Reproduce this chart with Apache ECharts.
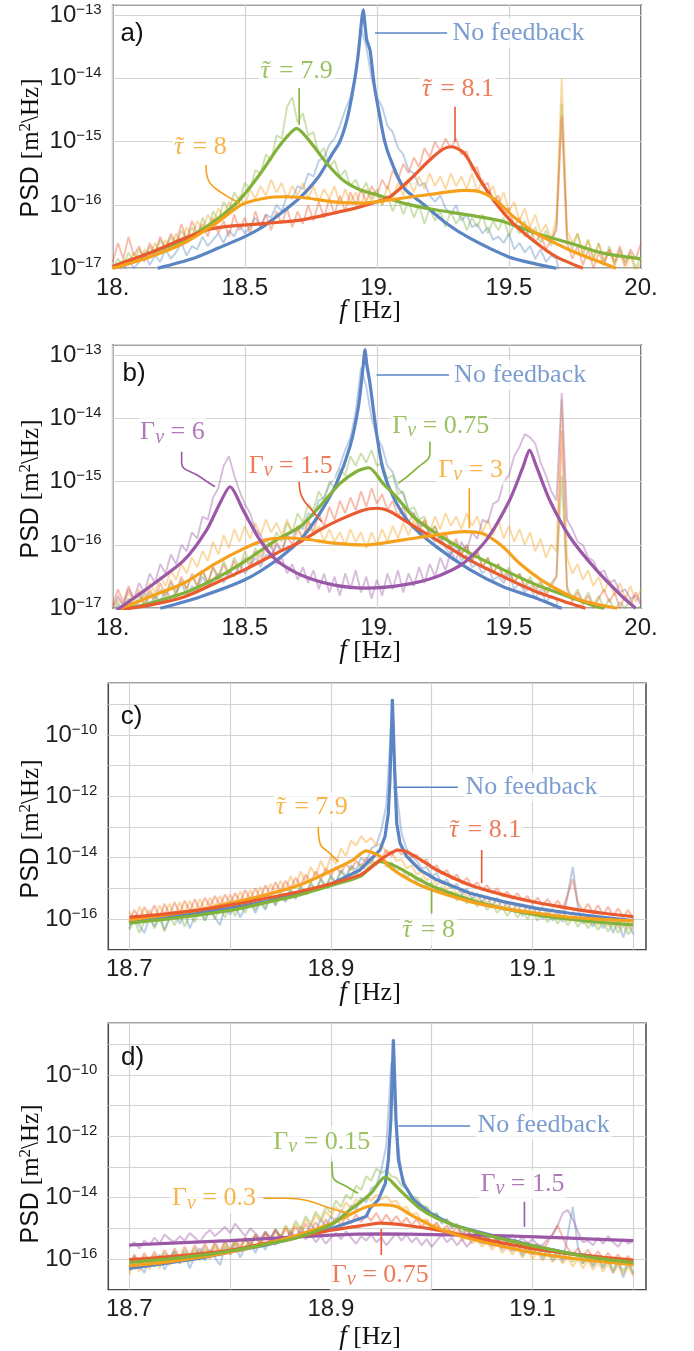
<!DOCTYPE html>
<html><head><meta charset="utf-8">
<script src="https://cdn.jsdelivr.net/npm/echarts@6/dist/echarts.min.js"></script>
<style>html,body{margin:0;padding:0;background:#fff}#c{width:694px;height:1351px}</style>
</head><body><div id="c"></div>
<script>
// ---------- DATA (values are log10 of PSD in m^2/Hz) ----------
// sampling positions of the measured (noisy) traces
const freqAB = Array.from({length:101}, (_, i) => Math.round((18 + 0.02 * i) * 1000) / 1000);
const freqCD = Array.from({length:101}, (_, i) => Math.round((18.7 + 0.005 * i) * 10000) / 10000);

// panel a) measured traces
const aNoiseBlue = [-17.1,-16.95,-17.05,-16.85,-17.0,-16.9,-16.75,-16.95,-16.8,-16.9,
 -16.7,-16.85,-16.75,-16.6,-16.8,-16.65,-16.7,-16.5,-16.65,-16.55,
 -16.45,-16.6,-16.4,-16.5,-16.3,-16.45,-16.35,-16.2,-16.35,-16.15,
 -16.2,-16.0,-16.1,-15.85,-15.9,-15.7,-15.75,-15.5,-15.55,-15.3,
 -15.25,-15.05,-14.95,-14.75,-14.5,-14.3,-13.9,-13.2,-13.5,-14.0,
 -14.3,-14.45,-14.75,-14.85,-15.1,-15.2,-15.45,-15.5,-15.7,-15.65,
 -15.85,-15.95,-15.85,-16.05,-16.15,-16.0,-16.25,-16.15,-16.35,-16.3,
 -16.45,-16.35,-16.55,-16.5,-16.6,-16.45,-16.7,-16.6,-16.75,-16.65,
 -16.85,-16.7,-16.9,-16.8,-16.85,-17.3,null,null,null,null,
 null,null,null,null,null,null,null,null,null,null,null];
const aNoiseGreen = [-17.0,-16.85,-16.95,-16.75,-16.9,-16.7,-16.85,-16.65,-16.8,-16.55,
 -16.7,-16.5,-16.65,-16.4,-16.55,-16.35,-16.5,-16.2,-16.4,-16.1,
 -16.25,-15.95,-16.1,-15.8,-15.95,-15.65,-15.75,-15.45,-15.5,-15.2,
 -15.3,-14.9,-14.95,-14.45,-14.3,-14.7,-14.55,-14.9,-14.85,-15.2,
 -15.1,-15.4,-15.3,-15.55,-15.45,-15.7,-15.6,-15.8,-15.65,-15.9,
 -15.75,-16.0,-15.85,-16.1,-15.9,-16.15,-15.95,-16.2,-16.0,-16.3,
 -16.05,-16.25,-16.1,-16.35,-16.1,-16.3,-16.15,-16.4,-16.2,-16.35,
 -16.15,-16.45,-16.25,-16.4,-16.2,-16.5,-16.3,-16.45,-16.25,-16.55,
 -16.35,-16.6,-16.4,-16.65,-16.3,-14.4,-16.5,-16.7,-16.45,-16.8,
 -16.55,-16.85,-16.6,-16.9,-16.65,-16.95,-16.7,-16.9,-16.75,-17.0,-16.8];
const aNoiseOrange = [-16.95,-17.05,-16.85,-16.95,-16.75,-16.9,-16.7,-16.8,-16.6,-16.75,
 -16.55,-16.7,-16.45,-16.6,-16.35,-16.5,-16.25,-16.4,-16.15,-16.3,
 -16.05,-16.2,-15.95,-16.1,-15.85,-16.0,-15.75,-15.9,-15.7,-15.85,
 -15.6,-15.8,-15.65,-15.9,-15.7,-15.85,-15.65,-15.9,-15.7,-15.95,
 -15.75,-15.9,-15.7,-16.0,-15.75,-15.95,-15.8,-16.0,-15.75,-15.95,
 -15.8,-16.0,-15.7,-15.9,-15.65,-15.85,-15.6,-15.8,-15.55,-15.75,
 -15.5,-15.7,-15.55,-15.75,-15.5,-15.7,-15.55,-15.75,-15.5,-15.8,
 -15.6,-15.85,-15.7,-16.0,-15.8,-16.1,-15.95,-16.25,-16.05,-16.35,
 -16.15,-16.45,-16.3,-16.55,-16.2,-14.0,-16.4,-16.6,-16.45,-16.75,
 -16.55,-16.85,-16.6,-16.9,-16.7,-16.95,-16.75,-17.0,-16.8,-17.05,-16.9];
const aNoiseRed = [-16.9,-16.6,-16.85,-16.5,-16.8,-16.65,-16.9,-16.6,-16.75,-16.5,
 -16.7,-16.45,-16.6,-16.3,-16.55,-16.25,-16.45,-16.3,-16.5,-16.2,
 -16.45,-16.25,-16.5,-16.15,-16.4,-16.2,-16.45,-16.1,-16.35,-16.15,
 -16.4,-16.1,-16.3,-16.05,-16.35,-16.1,-16.3,-16.0,-16.25,-15.95,
 -16.2,-15.9,-16.15,-15.85,-16.1,-15.8,-16.0,-15.75,-15.95,-15.7,
 -15.85,-15.6,-15.75,-15.45,-15.6,-15.35,-15.5,-15.25,-15.4,-15.1,
 -15.25,-15.0,-15.15,-14.95,-15.1,-14.95,-15.2,-15.15,-15.45,-15.4,
 -15.7,-15.65,-15.95,-15.85,-16.15,-16.05,-16.35,-16.2,-16.5,-16.35,
 -16.6,-16.45,-16.7,-16.55,-16.4,-14.6,-16.6,-16.85,-16.65,-16.95,
 -16.7,-17.0,-16.75,-16.95,-16.7,-16.9,-16.65,-16.95,-16.7,-16.85,-16.6];

// panel b) measured traces (No-feedback trace is the same measurement as in a)
const bNoiseGreen = [-17.1,-16.9,-17.05,-16.85,-17.0,-16.8,-16.95,-16.75,-16.9,-16.7,
 -16.85,-16.6,-16.8,-16.55,-16.7,-16.5,-16.65,-16.4,-16.6,-16.35,
 -16.5,-16.25,-16.45,-16.2,-16.35,-16.1,-16.3,-16.05,-16.2,-15.9,
 -16.05,-15.8,-15.95,-15.65,-15.8,-15.5,-15.65,-15.35,-15.45,-15.15,
 -15.3,-15.0,-15.1,-14.8,-14.9,-14.6,-14.75,-14.55,-14.7,-14.5,
 -14.75,-14.7,-14.95,-14.9,-15.2,-15.15,-15.45,-15.4,-15.6,-15.55,
 -15.8,-15.7,-15.9,-15.85,-16.05,-15.95,-16.15,-16.0,-16.25,-16.1,
 -16.35,-16.2,-16.45,-16.3,-16.5,-16.35,-16.6,-16.45,-16.65,-16.5,
 -16.7,-16.55,-16.75,-16.6,-16.5,-14.9,-16.65,-16.85,-16.7,-16.9,
 -16.75,-16.95,-16.8,-17.0,-16.85,-17.05,-16.9,-17.0,-16.85,-17.05,-16.95];
const bNoiseRed = [-16.95,-16.7,-16.9,-16.65,-16.85,-16.75,-16.95,-16.7,-16.85,-16.6,
 -16.8,-16.55,-16.75,-16.5,-16.7,-16.45,-16.65,-16.4,-16.6,-16.35,
 -16.55,-16.3,-16.5,-16.25,-16.45,-16.2,-16.35,-16.1,-16.3,-16.0,
 -16.2,-15.95,-16.1,-15.85,-16.0,-15.75,-15.9,-15.6,-15.8,-15.5,
 -15.7,-15.4,-15.6,-15.3,-15.5,-15.25,-15.45,-15.15,-15.4,-15.1,
 -15.35,-15.2,-15.45,-15.3,-15.55,-15.4,-15.65,-15.5,-15.75,-15.6,
 -15.85,-15.7,-15.95,-15.8,-16.05,-15.9,-16.15,-16.0,-16.25,-16.1,
 -16.35,-16.2,-16.45,-16.3,-16.55,-16.4,-16.6,-16.45,-16.7,-16.55,
 -16.75,-16.6,-16.8,-16.65,-16.5,-14.2,-16.7,-16.9,-16.75,-16.95,
 -16.8,-17.0,-16.85,-16.7,-16.9,-16.75,-17.0,-16.8,-16.95,-16.75,-16.9];
const bNoiseOrange = [-17.0,-16.85,-16.95,-16.75,-16.9,-16.7,-16.85,-16.6,-16.75,-16.5,
 -16.65,-16.4,-16.55,-16.3,-16.45,-16.2,-16.35,-16.1,-16.25,-15.95,
 -16.15,-15.85,-16.05,-15.75,-15.95,-15.7,-15.9,-15.65,-15.85,-15.6,
 -15.8,-15.65,-15.85,-15.6,-15.8,-15.7,-15.9,-15.65,-15.85,-15.7,
 -15.95,-15.75,-15.95,-15.8,-16.0,-15.75,-15.95,-15.8,-16.05,-15.8,
 -16.0,-15.75,-15.95,-15.7,-15.9,-15.65,-15.85,-15.6,-15.85,-15.6,
 -15.8,-15.55,-15.75,-15.5,-15.7,-15.55,-15.75,-15.5,-15.7,-15.55,
 -15.8,-15.6,-15.85,-15.6,-15.9,-15.7,-15.95,-15.75,-16.0,-15.8,
 -16.1,-15.9,-16.2,-16.0,-16.1,-13.7,-16.2,-16.45,-16.3,-16.55,
 -16.4,-16.65,-16.5,-16.75,-16.55,-16.8,-16.6,-16.85,-16.65,-16.9,-16.7];
const bNoisePurple = [-17.0,-16.8,-16.95,-16.7,-16.85,-16.6,-16.75,-16.45,-16.6,-16.3,
 -16.45,-16.15,-16.3,-16.0,-16.1,-15.8,-15.9,-15.55,-15.6,-15.25,
 -15.1,-14.75,-14.6,-14.9,-15.15,-15.35,-15.5,-15.75,-15.85,-16.05,
 -16.0,-16.3,-16.2,-16.45,-16.3,-16.55,-16.35,-16.6,-16.4,-16.7,
 -16.45,-16.75,-16.5,-16.8,-16.45,-16.7,-16.4,-16.75,-16.5,-16.85,
 -16.55,-16.8,-16.45,-16.7,-16.4,-16.75,-16.45,-16.65,-16.35,-16.6,
 -16.3,-16.5,-16.2,-16.4,-16.1,-16.25,-15.95,-16.1,-15.8,-15.9,
 -15.6,-15.65,-15.35,-15.3,-15.0,-14.9,-14.6,-14.45,-14.25,-14.3,
 -14.4,-14.7,-14.9,-15.15,-15.3,-13.6,-15.6,-15.75,-15.95,-16.0,
 -16.2,-16.25,-16.45,-16.4,-16.6,-16.55,-16.75,-16.7,-16.85,-16.8,-16.95];

// panel c) measured traces
const cNoiseBlue = [-16.3,-15.9,-16.2,-16.45,-15.95,-16.25,-15.85,-16.35,-16.0,-15.75,
 -16.15,-15.8,-16.3,-15.9,-15.65,-16.05,-15.7,-15.95,-16.2,-15.6,
 -15.85,-15.5,-15.95,-15.6,-15.4,-15.8,-15.45,-15.7,-15.25,-15.55,
 -15.2,-15.45,-15.05,-15.35,-14.95,-15.2,-14.85,-15.1,-14.7,-14.95,
 -14.6,-14.8,-14.4,-14.6,-14.25,-14.4,-14.0,-14.15,-13.7,-13.6,
 -13.1,-12.3,-9.6,-11.8,-13.2,-13.7,-13.95,-14.1,-14.35,-14.3,
 -14.6,-14.5,-14.85,-14.7,-15.0,-14.85,-15.2,-15.0,-15.35,-15.15,
 -15.45,-15.25,-15.6,-15.3,-15.7,-15.45,-15.75,-15.5,-15.9,-15.55,
 -15.85,-15.6,-16.0,-15.7,-16.05,-15.75,-16.1,-15.2,-14.3,-15.6,
 -16.15,-15.85,-16.25,-15.9,-16.3,-16.0,-16.45,-16.05,-16.6,-16.1,-16.5];
const cNoiseOrange = [-15.75,-16.1,-15.6,-15.95,-15.7,-16.05,-15.55,-15.85,-15.5,-15.9,
 -15.45,-15.8,-15.4,-15.75,-15.35,-15.7,-15.3,-15.6,-15.25,-15.55,
 -15.2,-15.5,-15.1,-15.45,-15.05,-15.35,-14.95,-15.3,-14.85,-15.15,
 -14.75,-15.05,-14.6,-14.95,-14.45,-14.8,-14.3,-14.6,-14.1,-14.45,
 -13.95,-14.2,-13.7,-13.95,-13.45,-13.6,-13.3,-13.5,-13.35,-13.6,
 -13.55,-13.85,-13.8,-14.1,-14.05,-14.35,-14.25,-14.55,-14.45,-14.75,
 -14.6,-14.9,-14.75,-15.05,-14.9,-15.2,-15.0,-15.3,-15.1,-15.4,
 -15.2,-15.5,-15.3,-15.6,-15.4,-15.65,-15.45,-15.75,-15.5,-15.8,
 -15.55,-15.9,-15.6,-15.95,-15.65,-16.0,-15.7,-16.05,-15.75,-16.1,
 -15.8,-16.15,-15.85,-16.2,-15.9,-16.25,-15.95,-16.3,-16.0,-16.35,-16.05];
const cNoiseRed = [-16.1,-15.7,-16.0,-15.6,-15.9,-15.55,-15.95,-15.5,-15.85,-15.45,
 -15.8,-15.4,-15.75,-15.35,-15.7,-15.3,-15.6,-15.25,-15.55,-15.2,
 -15.5,-15.15,-15.45,-15.05,-15.35,-15.0,-15.3,-14.9,-15.2,-14.8,
 -15.1,-14.75,-15.0,-14.65,-14.9,-14.55,-14.8,-14.45,-14.7,-14.35,
 -14.6,-14.3,-14.5,-14.2,-14.4,-14.1,-14.3,-14.0,-14.2,-13.85,
 -14.05,-13.75,-13.95,-13.7,-13.9,-13.75,-14.0,-13.9,-14.15,-14.05,
 -14.35,-14.25,-14.55,-14.4,-14.7,-14.55,-14.85,-14.65,-14.95,-14.8,
 -15.05,-14.9,-15.15,-15.0,-15.25,-15.1,-15.35,-15.15,-15.4,-15.25,
 -15.5,-15.3,-15.55,-15.35,-15.6,-15.4,-15.65,-15.2,-14.7,-15.45,
 -15.75,-15.5,-15.8,-15.55,-15.85,-15.6,-15.9,-15.65,-15.95,-15.7,-16.0];
const cNoiseGreen = [-16.35,-16.0,-16.45,-16.1,-15.85,-16.3,-15.95,-16.4,-15.9,-16.2,
 -15.8,-16.25,-15.85,-16.1,-15.7,-16.05,-15.65,-16.0,-15.6,-15.95,
 -15.55,-15.9,-15.45,-15.8,-15.4,-15.7,-15.3,-15.65,-15.2,-15.55,
 -15.1,-15.4,-15.0,-15.3,-14.9,-15.2,-14.8,-15.05,-14.7,-14.95,
 -14.6,-14.85,-14.45,-14.7,-14.3,-14.55,-14.2,-14.4,-14.05,-14.25,
 -14.0,-14.3,-14.15,-14.45,-14.35,-14.65,-14.5,-14.8,-14.65,-14.95,
 -14.8,-15.1,-14.95,-15.25,-15.1,-15.4,-15.2,-15.5,-15.3,-15.6,
 -15.4,-15.7,-15.5,-15.8,-15.6,-15.9,-15.65,-15.95,-15.7,-16.0,
 -15.75,-16.05,-15.8,-16.1,-15.85,-16.15,-15.9,-16.2,-15.95,-16.25,
 -16.0,-16.3,-16.05,-16.35,-16.1,-16.4,-16.15,-16.45,-16.2,-16.5,-16.25];

// panel d) measured traces (No-feedback trace is the same measurement as in c)
const dNoiseGreen = [-16.4,-16.0,-16.3,-15.9,-16.25,-15.85,-16.2,-15.8,-16.1,-15.75,
 -16.05,-15.7,-16.0,-15.65,-15.95,-15.6,-15.9,-15.5,-15.85,-15.45,
 -15.75,-15.4,-15.7,-15.3,-15.6,-15.2,-15.5,-15.1,-15.4,-15.0,
 -15.3,-14.9,-15.15,-14.75,-15.0,-14.6,-14.85,-14.45,-14.7,-14.3,
 -14.5,-14.1,-14.3,-13.9,-14.05,-13.6,-13.75,-13.3,-13.45,-13.05,
 -13.2,-13.1,-13.3,-13.35,-13.6,-13.7,-13.95,-14.0,-14.25,-14.3,
 -14.5,-14.55,-14.75,-14.7,-14.95,-14.9,-15.1,-15.0,-15.25,-15.15,
 -15.35,-15.25,-15.5,-15.35,-15.6,-15.45,-15.7,-15.5,-15.8,-15.6,
 -15.85,-15.65,-15.9,-15.7,-15.95,-15.75,-16.0,-15.8,-16.1,-15.85,
 -16.15,-15.9,-16.2,-15.95,-16.25,-16.0,-16.35,-16.05,-16.4,-16.1,-16.45];
const dNoiseOrange = [-16.5,-16.1,-16.4,-16.0,-16.35,-15.95,-16.3,-15.9,-16.2,-15.85,
 -16.15,-15.8,-16.1,-15.75,-16.05,-15.7,-16.0,-15.6,-15.9,-15.55,
 -15.85,-15.45,-15.75,-15.35,-15.65,-15.25,-15.55,-15.15,-15.45,-15.05,
 -15.35,-14.95,-15.2,-14.85,-15.1,-14.7,-14.95,-14.55,-14.8,-14.45,
 -14.65,-14.3,-14.5,-14.15,-14.35,-14.05,-14.2,-13.95,-14.1,-13.9,
 -14.05,-13.95,-14.15,-14.1,-14.35,-14.3,-14.55,-14.5,-14.75,-14.7,
 -14.95,-14.85,-15.1,-15.0,-15.25,-15.1,-15.4,-15.25,-15.5,-15.35,
 -15.6,-15.45,-15.7,-15.5,-15.8,-15.6,-15.85,-15.65,-15.95,-15.7,
 -16.0,-15.8,-16.05,-15.85,-16.1,-15.9,-16.15,-15.95,-16.25,-16.0,
 -16.3,-16.05,-16.35,-16.1,-16.4,-16.15,-16.45,-16.2,-16.5,-16.25,-16.55];
const dNoiseRed = [-16.25,-15.85,-16.15,-15.8,-16.1,-15.75,-16.05,-15.7,-16.0,-15.65,
 -15.95,-15.6,-15.9,-15.55,-15.85,-15.5,-15.8,-15.45,-15.75,-15.4,
 -15.7,-15.35,-15.6,-15.3,-15.55,-15.2,-15.5,-15.15,-15.4,-15.05,
 -15.35,-15.0,-15.25,-14.95,-15.2,-14.85,-15.1,-14.8,-15.05,-14.7,
 -14.95,-14.65,-14.9,-14.6,-14.85,-14.55,-14.8,-14.55,-14.75,-14.5,
 -14.8,-14.55,-14.8,-14.6,-14.85,-14.65,-14.9,-14.7,-14.95,-14.75,
 -15.0,-14.8,-15.1,-14.9,-15.15,-14.95,-15.25,-15.05,-15.3,-15.1,
 -15.4,-15.2,-15.45,-15.25,-15.55,-15.3,-15.6,-15.4,-15.65,-15.45,
 -15.7,-15.5,-15.75,-15.45,-15.2,-14.9,-15.3,-15.65,-15.85,-15.65,
 -15.9,-15.7,-15.95,-15.75,-16.0,-15.8,-16.05,-15.85,-16.1,-15.9,-16.2];
const dNoisePurple = [-15.6,-15.45,-15.65,-15.4,-15.55,-15.3,-15.5,-15.2,-15.35,-15.45,
 -15.25,-15.4,-15.15,-15.3,-15.45,-15.2,-15.05,-15.25,-15.1,-14.95,
 -15.15,-14.85,-15.05,-15.25,-15.0,-15.15,-15.35,-15.1,-15.3,-15.05,
 -15.25,-15.4,-15.15,-15.3,-15.1,-15.35,-15.2,-15.45,-15.25,-15.5,
 -15.3,-15.15,-15.35,-15.1,-15.3,-15.5,-15.25,-15.4,-15.2,-15.45,
 -15.3,-15.55,-15.35,-15.15,-15.4,-15.2,-15.45,-15.3,-15.55,-15.35,
 -15.6,-15.4,-15.2,-15.45,-15.3,-15.55,-15.35,-15.6,-15.4,-15.25,
 -15.5,-15.3,-15.55,-15.35,-15.6,-15.4,-15.2,-15.45,-15.3,-15.5,
 -15.35,-15.55,-15.55,-15.35,-15.2,-14.9,-14.5,-14.4,-14.7,-15.1,
 -15.45,-15.4,-15.55,-15.3,-15.5,-15.25,-15.45,-15.6,-15.35,-15.5,-15.4];

// model curves [f (Hz), log10 PSD]
const aCurveBlue = [[18.17,-17.0],[18.3,-16.85],[18.4,-16.68],[18.5,-16.5],[18.57,-16.34],[18.64,-16.12],[18.71,-15.88],[18.78,-15.55],[18.83,-15.2],[18.86,-15.0],[18.89,-14.6],[18.917,-14.0],[18.93,-13.6],[18.942,-13.1],[18.948,-12.92],[18.955,-13.15],[18.962,-13.4],[18.974,-13.55],[18.99,-14.1],[19.011,-14.6],[19.03,-15.0],[19.049,-15.25],[19.1,-15.72],[19.18,-16.0],[19.26,-16.28],[19.35,-16.52],[19.5,-16.82],[19.6,-16.93],[19.68,-17.0]];
const aCurveGreen = [[18.0,-16.97],[18.14,-16.76],[18.27,-16.55],[18.39,-16.24],[18.48,-15.92],[18.56,-15.5],[18.62,-15.13],[18.66,-14.92],[18.696,-14.79],[18.747,-15.0],[18.81,-15.34],[18.87,-15.6],[18.936,-15.76],[19.0,-15.84],[19.1,-15.97],[19.226,-16.08],[19.352,-16.16],[19.478,-16.26],[19.604,-16.45],[19.73,-16.6],[19.856,-16.76],[20.0,-16.85]];
const aCurveOrange = [[18.0,-17.0],[18.14,-16.82],[18.27,-16.6],[18.39,-16.29],[18.49,-15.99],[18.58,-15.89],[18.646,-15.87],[18.734,-15.89],[18.835,-15.95],[18.936,-15.97],[19.0,-15.95],[19.1,-15.89],[19.226,-15.82],[19.33,-15.77],[19.39,-15.79],[19.45,-15.92],[19.516,-16.18],[19.604,-16.45],[19.73,-16.71],[19.856,-16.92],[19.906,-17.0]];
const aCurveRed = [[18.0,-16.97],[18.14,-16.76],[18.27,-16.53],[18.37,-16.38],[18.456,-16.33],[18.58,-16.29],[18.71,-16.24],[18.835,-16.13],[18.936,-16.03],[19.0,-15.95],[19.05,-15.87],[19.125,-15.6],[19.2,-15.29],[19.25,-15.12],[19.282,-15.08],[19.33,-15.18],[19.39,-15.6],[19.45,-15.97],[19.516,-16.29],[19.604,-16.6],[19.68,-16.82],[19.78,-17.0]];

const bCurveBlue = [[18.18,-17.0],[18.33,-16.82],[18.5,-16.55],[18.62,-16.24],[18.71,-15.92],[18.784,-15.5],[18.847,-15.03],[18.898,-14.45],[18.93,-13.82],[18.948,-13.18],[18.955,-12.92],[18.962,-13.15],[18.974,-13.45],[18.999,-14.24],[19.024,-14.82],[19.062,-15.24],[19.125,-15.66],[19.226,-16.03],[19.352,-16.39],[19.478,-16.66],[19.604,-16.84],[19.68,-16.97],[19.7,-17.0]];
const bCurveGreen = [[18.03,-17.03],[18.14,-16.92],[18.27,-16.76],[18.39,-16.53],[18.5,-16.26],[18.62,-15.92],[18.71,-15.71],[18.784,-15.39],[18.86,-15.03],[18.923,-14.84],[18.97,-14.78],[19.024,-15.03],[19.074,-15.24],[19.137,-15.55],[19.226,-15.82],[19.352,-16.13],[19.478,-16.39],[19.604,-16.63],[19.73,-16.82],[19.83,-16.97],[19.86,-17.0]];
const bCurveRed = [[18.03,-17.02],[18.14,-16.95],[18.27,-16.82],[18.39,-16.6],[18.5,-16.39],[18.62,-16.13],[18.71,-15.95],[18.784,-15.76],[18.86,-15.6],[18.948,-15.45],[19.0,-15.42],[19.05,-15.47],[19.1,-15.6],[19.226,-15.92],[19.352,-16.24],[19.478,-16.5],[19.604,-16.74],[19.73,-16.92],[19.79,-17.0]];
const bCurveOrange = [[18.03,-17.0],[18.14,-16.82],[18.27,-16.6],[18.39,-16.29],[18.5,-16.05],[18.58,-15.92],[18.66,-15.89],[18.734,-15.91],[18.835,-15.97],[18.96,-16.0],[19.1,-15.92],[19.226,-15.84],[19.33,-15.79],[19.4,-15.82],[19.478,-16.03],[19.54,-16.29],[19.64,-16.6],[19.77,-16.87],[19.91,-17.0]];
const bCurvePurple = [[18.015,-17.03],[18.14,-16.66],[18.27,-16.24],[18.356,-15.76],[18.406,-15.34],[18.444,-15.08],[18.494,-15.45],[18.557,-15.92],[18.62,-16.24],[18.71,-16.47],[18.835,-16.63],[18.96,-16.68],[19.1,-16.63],[19.226,-16.5],[19.327,-16.29],[19.415,-15.92],[19.503,-15.29],[19.554,-14.76],[19.578,-14.5],[19.604,-14.76],[19.654,-15.29],[19.73,-15.87],[19.83,-16.39],[19.93,-16.82],[19.98,-17.0]];

const cCurveBlue = [[18.7,-16.08],[18.754,-15.86],[18.8,-15.65],[18.836,-15.43],[18.869,-15.16],[18.902,-14.83],[18.929,-14.4],[18.9388,-14.07],[18.9487,-13.75],[18.9537,-13.31],[18.957,-12.55],[18.9586,-11.47],[18.961,-8.83],[18.9636,-11.47],[18.9653,-12.88],[18.9686,-13.53],[18.9752,-13.96],[18.9884,-14.4],[19.005,-14.72],[19.038,-15.16],[19.071,-15.43],[19.104,-15.65],[19.137,-15.81],[19.17,-15.94],[19.2,-16.05]];
const cCurveOrange = [[18.7,-16.03],[18.737,-15.86],[18.77,-15.7],[18.803,-15.46],[18.836,-15.21],[18.869,-14.89],[18.902,-14.4],[18.922,-14.07],[18.935,-13.78],[18.949,-13.96],[18.958,-14.29],[18.972,-14.61],[18.988,-14.89],[19.005,-15.1],[19.038,-15.43],[19.071,-15.65],[19.104,-15.81],[19.137,-15.94],[19.17,-16.01],[19.2,-16.06]];
const cCurveRed = [[18.7,-15.94],[18.737,-15.83],[18.77,-15.7],[18.803,-15.53],[18.836,-15.32],[18.869,-15.1],[18.902,-14.83],[18.929,-14.56],[18.939,-14.34],[18.949,-14.07],[18.967,-13.75],[18.978,-13.85],[18.992,-14.13],[19.005,-14.4],[19.038,-14.89],[19.071,-15.21],[19.104,-15.46],[19.137,-15.65],[19.17,-15.81],[19.2,-15.92]];
const cCurveGreen = [[18.7,-16.13],[18.737,-16.0],[18.77,-15.86],[18.803,-15.7],[18.836,-15.46],[18.869,-15.21],[18.902,-14.89],[18.929,-14.61],[18.948,-14.13],[18.965,-14.29],[18.988,-14.72],[19.005,-14.99],[19.038,-15.37],[19.071,-15.65],[19.104,-15.86],[19.137,-16.0],[19.17,-16.11],[19.2,-16.19]];

const dCurveBlue = [[18.7,-16.3],[18.737,-16.13],[18.77,-15.97],[18.803,-15.75],[18.836,-15.54],[18.869,-15.27],[18.902,-14.99],[18.935,-14.61],[18.939,-14.34],[18.947,-14.07],[18.954,-13.53],[18.957,-12.77],[18.9595,-11.47],[18.962,-8.84],[18.9646,-11.47],[18.967,-12.77],[18.972,-13.53],[18.982,-14.07],[18.998,-14.5],[19.021,-14.89],[19.045,-15.1],[19.071,-15.32],[19.104,-15.59],[19.137,-15.81],[19.17,-15.97],[19.2,-16.08]];
const dCurveGreen = [[18.7,-16.11],[18.737,-16.0],[18.77,-15.88],[18.803,-15.72],[18.836,-15.52],[18.869,-15.28],[18.902,-14.85],[18.917,-14.45],[18.929,-14.15],[18.94,-13.85],[18.9537,-13.33],[18.9586,-13.42],[18.965,-13.64],[18.975,-13.96],[18.988,-14.34],[19.005,-14.67],[19.031,-14.99],[19.054,-15.21],[19.088,-15.48],[19.12,-15.7],[19.153,-15.92],[19.2,-16.11]];
const dCurveOrange = [[18.7,-16.22],[18.737,-16.1],[18.77,-15.94],[18.803,-15.75],[18.836,-15.5],[18.869,-15.2],[18.902,-14.82],[18.917,-14.58],[18.935,-14.3],[18.9504,-14.23],[18.965,-14.29],[18.982,-14.61],[19.005,-14.99],[19.031,-15.27],[19.064,-15.54],[19.104,-15.81],[19.153,-16.03],[19.2,-16.19]];
const dCurveRed = [[18.7,-16.02],[18.737,-15.93],[18.77,-15.83],[18.803,-15.7],[18.836,-15.48],[18.869,-15.27],[18.902,-15.05],[18.935,-14.89],[18.949,-14.83],[18.972,-14.89],[19.005,-15.05],[19.038,-15.27],[19.071,-15.48],[19.104,-15.68],[19.137,-15.83],[19.17,-15.94],[19.2,-16.03]];
const dCurvePurple = [[18.7,-15.54],[18.8,-15.4],[18.9,-15.22],[18.95,-15.18],[19.0,-15.2],[19.071,-15.24],[19.137,-15.32],[19.2,-15.4]];

// axis ranges and ticks
const xRangeAB = [18, 20], xRangeCD = [18.6792, 19.2126];
const yRangeAB = [-17, -12.837], yRangeCD = [-17, -8.32];
const xGridCD = [18.7, 18.8, 18.9, 19.0, 19.1, 19.2], xLabelsCD = [18.7, 18.9, 19.1];
const yLabelsAB = [-17, -16, -15, -14, -13], yLabelsCD = [-16, -14, -12, -10];

// callout texts and their anchors [f, log10 PSD]
const TAU = '{tau|τ}{tl|˜}';
const GAM = '{s|Γ}{v|v}';
const aNotes = [
  {text:'{s|No feedback}', c:'blue', at:[19.277,-13.284], left:true},
  {text:TAU+'{s| = 7.9}', c:'green', at:[18.696,-13.884]},
  {text:TAU+'{s| = 8}', c:'orange', at:[18.332,-15.083]},
  {text:TAU+'{s| = 8.1}', c:'red', at:[19.307,-14.168]}];
const aLeaders = [
  {c:'blue', pts:[[18.993,-13.284],[19.266,-13.284]]},
  {c:'green', pts:[[18.706,-14.152],[18.706,-14.737]]},
  {c:'orange', pts:[[18.353,-15.368],[18.362,-15.605],[18.406,-15.79],[18.482,-15.973]]},
  {c:'red', pts:[[19.296,-14.448],[19.296,-15.0]]}];
const bNotes = [
  {text:'{s|No feedback}', c:'blue', at:[19.283,-13.316], left:true},
  {text:GAM+'{s| = 6}', c:'purple', at:[18.226,-14.224]},
  {text:GAM+'{s| = 1.5}', c:'red', at:[18.674,-14.749]},
  {text:GAM+'{s| = 0.75}', c:'green', at:[19.242,-14.118]},
  {text:GAM+'{s| = 3}', c:'orange', at:[19.355,-14.818]}];
const bLeaders = [
  {c:'blue', pts:[[18.999,-13.316],[19.273,-13.316]]},
  {c:'purple', pts:[[18.261,-14.527],[18.261,-14.71],[18.33,-14.922],[18.387,-15.08]]},
  {c:'red', pts:[[18.706,-15.0],[18.716,-15.237],[18.759,-15.474],[18.791,-15.632]]},
  {c:'green', pts:[[19.201,-14.369],[19.201,-14.552],[19.151,-14.789],[19.081,-15.026]]},
  {c:'orange', pts:[[19.35,-15.105],[19.35,-15.737]]}];
const cNotes = [
  {text:'{s|No feedback}', c:'blue', at:[19.031,-11.688], left:true},
  {text:TAU+'{s| = 8.1}', c:'red', at:[19.053,-13.099]},
  {text:TAU+'{s| = 7.9}', c:'orange', at:[18.881,-12.366]},
  {text:TAU+'{s| = 8}', c:'green', at:[18.997,-16.356]}];
const cLeaders = [
  {c:'blue', pts:[[18.962,-11.708],[19.026,-11.708]]},
  {c:'red', pts:[[19.0496,-13.75],[19.0496,-14.835]]},
  {c:'orange', pts:[[18.8875,-12.991],[18.8892,-13.532],[18.899,-13.858],[18.9075,-14.131]]},
  {c:'green', pts:[[18.9999,-15.053],[18.9999,-15.812]]}];
const dNotes = [
  {text:'{s|No feedback}', c:'blue', at:[19.043,-11.633], left:true},
  {text:GAM+'{s| = 0.15}', c:'green', at:[18.891,-12.177]},
  {text:GAM+'{s| = 0.3}', c:'orange', at:[18.784,-14.02]},
  {text:GAM+'{s| = 0.75}', c:'red', at:[18.949,-16.519]},
  {text:GAM+'{s| = 1.5}', c:'purple', at:[19.09,-13.555]}];
const dLeaders = [
  {c:'blue', pts:[[18.967,-11.665],[19.038,-11.665]]},
  {c:'green', pts:[[18.901,-12.828],[18.902,-13.317],[18.916,-13.643],[18.927,-13.857]]},
  {c:'orange', pts:[[18.833,-14.02],[18.856,-14.02],[18.912,-14.457],[18.917,-14.489]]},
  {c:'red', pts:[[18.95,-15.02],[18.95,-15.867]]},
  {c:'purple', pts:[[19.092,-14.131],[19.092,-14.945]]}];

// ---------- STYLE / LAYOUT ----------
const COL = {blue:'#5a84c3', green:'#82b23a', orange:'#f5a11c', red:'#ea5a2f', purple:'#9b58a7'};
const layout = [
  {left:112.7, right:53, top:4.7, height:263.6},
  {left:112.7, right:53, top:344.7, height:263.6},
  {left:108.3, right:48, top:683.3, height:266.5},
  {left:108.3, right:48, top:1023.3, height:266.5}];
const letterPos = [[132,34],[134,373.5],[131.5,717],[132.5,1058]];
const yTitlePos = [[31,148],[31,489],[31,829],[31,1174]];
const xTitlePos = [[370,311],[370,651],[370,993],[370,1337]];

const panels = [
  {noiseX:freqAB, noise:[[aNoiseBlue,'blue'],[aNoiseGreen,'green'],[aNoiseOrange,'orange'],[aNoiseRed,'red']],
   curves:[[aCurveBlue,'blue'],[aCurveGreen,'green'],[aCurveRed,'red'],[aCurveOrange,'orange']], notes:aNotes, leaders:aLeaders, letter:'a)'},
  {noiseX:freqAB, noise:[[aNoiseBlue,'blue'],[bNoiseGreen,'green'],[bNoiseRed,'red'],[bNoiseOrange,'orange'],[bNoisePurple,'purple']],
   curves:[[bCurveBlue,'blue'],[bCurveGreen,'green'],[bCurveRed,'red'],[bCurveOrange,'orange'],[bCurvePurple,'purple']], notes:bNotes, leaders:bLeaders, letter:'b)'},
  {noiseX:freqCD, noise:[[cNoiseBlue,'blue'],[cNoiseOrange,'orange'],[cNoiseRed,'red'],[cNoiseGreen,'green']],
   curves:[[cCurveBlue,'blue'],[cCurveGreen,'green'],[cCurveOrange,'orange'],[cCurveRed,'red']], notes:cNotes, leaders:cLeaders, letter:'c)'},
  {noiseX:freqCD, noise:[[cNoiseBlue,'blue'],[dNoiseGreen,'green'],[dNoiseOrange,'orange'],[dNoiseRed,'red'],[dNoisePurple,'purple']],
   curves:[[dCurveBlue,'blue'],[dCurvePurple,'purple'],[dCurveRed,'red'],[dCurveOrange,'orange'],[dCurveGreen,'green']], notes:dNotes, leaders:dLeaders, letter:'d)'}];

function pairs(xs, ys) {
  const out = [];
  for (let i = 0; i < Math.min(xs.length, ys.length); i++) if (ys[i] != null) out.push([xs[i], ys[i]]);
  return out;
}
const TICK_FONT = 'Liberation Sans';
const gridLineStyle = {color:'#d3d3d3', width:1.2};
const noteRich = {
  s:{fontFamily:'Liberation Serif', fontSize:26, lineHeight:30},
  tau:{fontFamily:'Liberation Serif', fontSize:26, lineHeight:30, fontStyle:'italic', width:0, align:'left'},
  tl:{fontFamily:'Liberation Serif', fontSize:26, lineHeight:30, width:12, align:'center'},
  v:{fontFamily:'Liberation Serif', fontSize:20, lineHeight:20, fontStyle:'italic', verticalAlign:'bottom'}
};
const yRich = {
  b:{fontFamily:TICK_FONT, fontSize:24, lineHeight:26, color:'#1e1e1e'},
  s:{fontFamily:TICK_FONT, fontSize:15, lineHeight:15, verticalAlign:'top', color:'#1e1e1e'}
};

const grids = [], xAxes = [], yAxes = [], series = [], graphics = [];
panels.forEach((p, i) => {
  const ab = i < 2;
  grids.push(Object.assign({}, layout[i], {show:true, borderColor:'#454545', borderWidth:1.5, backgroundColor:'#fff'}));
  const xr = ab ? xRangeAB : xRangeCD;
  const xa = {type:'value', gridIndex:i, min:xr[0], max:xr[1], axisLine:{show:false},
    splitLine:{show:true, lineStyle:gridLineStyle},
    axisLabel:{fontFamily:TICK_FONT, fontSize:24, color:'#1e1e1e', margin:8}};
  if (ab) {
    xa.interval = 0.5;
    xa.axisTick = {show:false};
    xa.axisLabel.formatter = v => (Math.abs(v - Math.round(v)) < 1e-9 ? Math.round(v) + '.' : v.toFixed(1));
  } else {
    xa.axisTick = {show:false, customValues:xGridCD};
    xa.axisLabel.customValues = xLabelsCD;
    xa.axisLabel.formatter = v => v.toFixed(1);
  }
  xAxes.push(xa);
  const yr = ab ? yRangeAB : yRangeCD;
  const yl = ab ? yLabelsAB : yLabelsCD;
  yAxes.push({type:'value', gridIndex:i, min:yr[0], max:yr[1], interval:1, axisLine:{show:false}, axisTick:{show:false},
    splitLine:{show:true, lineStyle:gridLineStyle},
    axisLabel:{margin:11, rich:yRich, formatter: v => yl.some(l => Math.abs(l - v) < 1e-6) ? '{b|10}{s|\u2212' + Math.round(-v) + '}' : ''}});

  p.noise.forEach(([vals, c]) => series.push({type:'line', xAxisIndex:i, yAxisIndex:i, data:pairs(p.noiseX, vals),
    symbol:'none', silent:true, z:1, lineStyle:{color:COL[c], width:ab ? 1.9 : 2.1, opacity:0.4}}));
  p.curves.forEach(([pts, c]) => series.push({type:'line', xAxisIndex:i, yAxisIndex:i, data:pts,
    symbol:'none', silent:true, z:2, smooth:(c === 'blue' && !ab) ? false : 0.25, lineStyle:{color:COL[c], width:3.2}}));
  p.leaders.forEach(l => series.push({type:'line', xAxisIndex:i, yAxisIndex:i, data:l.pts, symbol:'none', silent:true, z:3,
    smooth:l.pts.length > 2 ? 0.45 : false, lineStyle:{color:COL[l.c], width:1.6}}));
  series.push({type:'scatter', xAxisIndex:i, yAxisIndex:i, symbolSize:1, silent:true, z:4, itemStyle:{color:'rgba(0,0,0,0)'},
    data:p.notes.map(n => ({value:n.at, label:{show:true, position:n.left ? 'right' : 'inside', distance:0,
      formatter:() => n.text, color:COL[n.c], rich:noteRich, backgroundColor:'rgba(255,255,255,0.9)', padding:[0,2]}}))});

  graphics.push({type:'text', x:letterPos[i][0], y:letterPos[i][1], z:10,
    style:{text:p.letter, fontFamily:'Liberation Sans', fontSize:26, fill:'#111', align:'center', verticalAlign:'middle'}});
  graphics.push({type:'text', x:yTitlePos[i][0], y:yTitlePos[i][1], rotation:Math.PI / 2, z:10,
    style:{text:'{a|PSD }{b|[m}{sup|2}{b|\\Hz]}', align:'center', verticalAlign:'middle', fill:'#111',
      rich:{a:{fontFamily:'Liberation Sans', fontSize:25, lineHeight:28, fill:'#111'},
            b:{fontFamily:'Liberation Serif', fontSize:25, lineHeight:28, fill:'#111'},
            sup:{fontFamily:'Liberation Serif', fontSize:17, lineHeight:17, verticalAlign:'top', fill:'#111'}}}});
  graphics.push({type:'text', x:xTitlePos[i][0], y:xTitlePos[i][1], z:10,
    style:{text:'{i|f}{n| [Hz]}', align:'center', verticalAlign:'middle', fill:'#111',
      rich:{i:{fontFamily:'Liberation Serif', fontSize:27, fontStyle:'italic', fill:'#111'}, n:{fontFamily:'Liberation Serif', fontSize:26, fill:'#111'}}}});
});

const chart = echarts.init(document.getElementById('c'), null, {renderer:'canvas', width:694, height:1351});
chart.setOption({animation:false, backgroundColor:'#fff', grid:grids, xAxis:xAxes, yAxis:yAxes, series:series, graphic:graphics});
</script></body></html>
